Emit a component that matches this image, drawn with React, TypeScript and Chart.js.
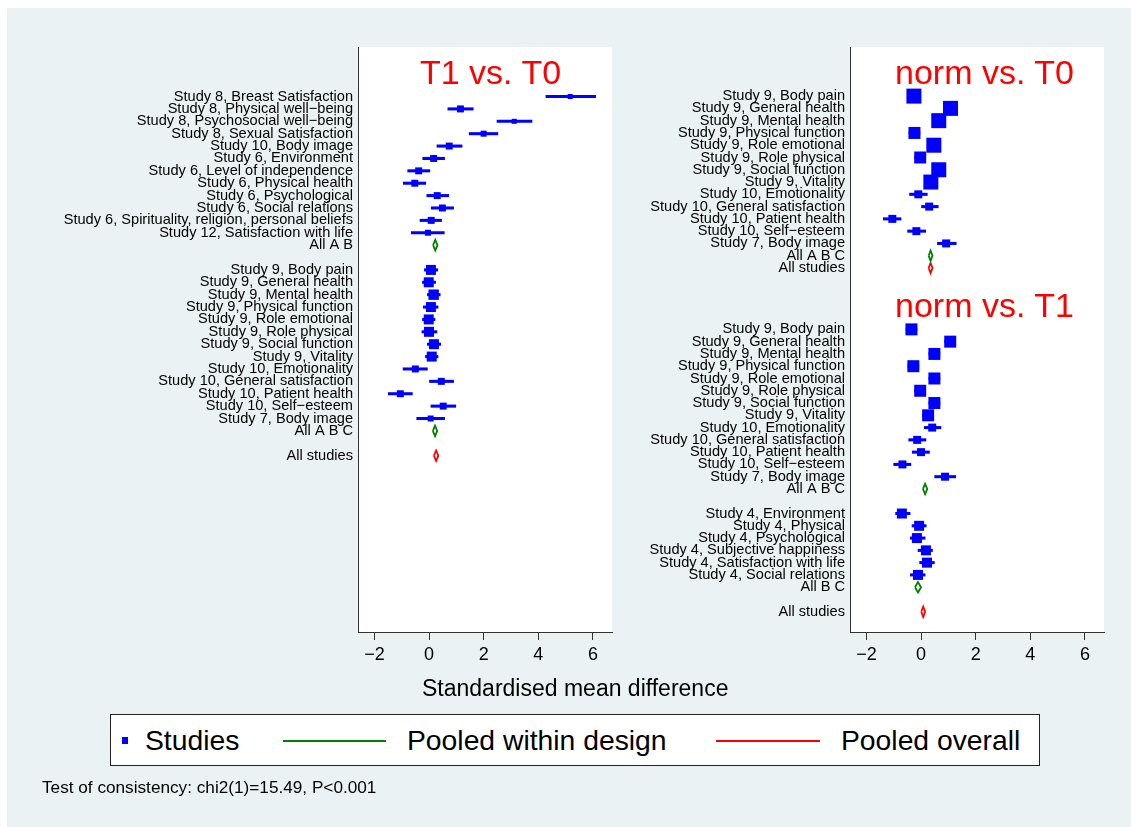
import React, { useEffect, useRef } from 'react';
import { Chart, registerables } from 'chart.js';

Chart.register(...registerables);

const FONT = '"Liberation Sans", Arial, Helvetica, sans-serif';
const W = 1131;
const H = 827;

// ---------- data ----------
const xTicks = [-2, 0, 2, 4, 6];

// Panel "T1 vs. T0"
const leftLabels = [
  'Study 8, Breast Satisfaction',
  'Study 8, Physical well−being',
  'Study 8, Psychosocial well−being',
  'Study 8, Sexual Satisfaction',
  'Study 10, Body image',
  'Study 6, Environment',
  'Study 6, Level of independence',
  'Study 6, Physical health',
  'Study 6, Psychological',
  'Study 6, Social relations',
  'Study 6, Spirituality, religion, personal beliefs',
  'Study 12, Satisfaction with life',
  'All A B',
  '',
  'Study 9, Body pain',
  'Study 9, General health',
  'Study 9, Mental health',
  'Study 9, Physical function',
  'Study 9, Role emotional',
  'Study 9, Role physical',
  'Study 9, Social function',
  'Study 9, Vitality',
  'Study 10, Emotionality',
  'Study 10, General satisfaction',
  'Study 10, Patient health',
  'Study 10, Self−esteem',
  'Study 7, Body image',
  'All A B C',
  '',
  'All studies',
];
const leftEst = [5.17, 1.15, 3.12, 2.0, 0.74, 0.17, -0.38, -0.52, 0.3, 0.49, 0.08, -0.04, 0.23, null,
  0.07, -0.01, 0.17, 0.07, -0.01, 0.0, 0.18, 0.1, -0.5, 0.45, -1.05, 0.52, 0.06, 0.22, null, 0.26];
const leftLo = [4.28, 0.69, 2.49, 1.47, 0.29, -0.23, -0.78, -0.94, -0.08, 0.08, -0.33, -0.65, 0.15, null,
  -0.17, -0.24, -0.06, -0.21, -0.24, -0.26, -0.06, -0.13, -0.95, 0.0, -1.49, 0.07, -0.45, 0.14, null, 0.18];
const leftHi = [6.1, 1.62, 3.77, 2.52, 1.21, 0.57, 0.03, -0.12, 0.72, 0.9, 0.46, 0.56, 0.31, null,
  0.32, 0.24, 0.41, 0.33, 0.22, 0.29, 0.43, 0.33, -0.06, 0.9, -0.61, 0.98, 0.57, 0.3, null, 0.34];
const leftWeight = [2.8, 5.4, 2.8, 4, 5.4, 5.4, 5.4, 5.4, 5.4, 5.4, 5.4, 4, null, null,
  11.1, 11.1, 12, 11.1, 11.1, 11.1, 11.1, 11.1, 5.4, 5.4, 5.4, 5.4, 4, null, null, null];

// Panels "norm vs. T0" and "norm vs. T1"
const rightLabels = [
  'Study 9, Body pain',
  'Study 9, General health',
  'Study 9, Mental health',
  'Study 9, Physical function',
  'Study 9, Role emotional',
  'Study 9, Role physical',
  'Study 9, Social function',
  'Study 9, Vitality',
  'Study 10, Emotionality',
  'Study 10, General satisfaction',
  'Study 10, Patient health',
  'Study 10, Self−esteem',
  'Study 7, Body image',
  'All A B C',
  'All studies',
  '', '', '', '',
  'Study 9, Body pain',
  'Study 9, General health',
  'Study 9, Mental health',
  'Study 9, Physical function',
  'Study 9, Role emotional',
  'Study 9, Role physical',
  'Study 9, Social function',
  'Study 9, Vitality',
  'Study 10, Emotionality',
  'Study 10, General satisfaction',
  'Study 10, Patient health',
  'Study 10, Self−esteem',
  'Study 7, Body image',
  'All A B C',
  '',
  'Study 4, Environment',
  'Study 4, Physical',
  'Study 4, Psychological',
  'Study 4, Subjective happiness',
  'Study 4, Satisfaction with life',
  'Study 4, Social relations',
  'All B C',
  '',
  'All studies',
];
const rightEst = [-0.26, 1.08, 0.65, -0.24, 0.47, -0.03, 0.65, 0.36, -0.1, 0.3, -1.05, -0.17, 0.92, 0.35, 0.35,
  null, null, null, null,
  -0.35, 1.07, 0.49, -0.28, 0.49, -0.03, 0.49, 0.26, 0.41, -0.14, 0.0, -0.68, 0.88, 0.15, null,
  -0.7, -0.07, -0.15, 0.18, 0.22, -0.11, -0.11, null, 0.08];
const rightLo = [-0.46, 0.88, 0.45, -0.44, 0.27, -0.23, 0.45, 0.16, -0.42, 0.0, -1.38, -0.49, 0.6, 0.28, 0.28,
  null, null, null, null,
  -0.55, 0.87, 0.29, -0.48, 0.29, -0.23, 0.29, 0.06, 0.12, -0.45, -0.32, -1.0, 0.5, 0.07, null,
  -0.93, -0.33, -0.39, -0.11, -0.05, -0.39, -0.22, null, 0.01];
const rightHi = [-0.06, 1.28, 0.85, -0.04, 0.67, 0.17, 0.85, 0.56, 0.23, 0.63, -0.73, 0.17, 1.29, 0.42, 0.42,
  null, null, null, null,
  -0.15, 1.27, 0.69, -0.08, 0.69, 0.17, 0.69, 0.46, 0.73, 0.18, 0.31, -0.37, 1.27, 0.23, null,
  -0.4, 0.19, 0.15, 0.42, 0.49, 0.15, 0.0, null, 0.15];
const rightWeight = [25, 25, 25, 16, 25, 16, 25, 25, 7.1, 7.1, 7.1, 7.1, 7.1, null, null,
  null, null, null, null,
  16, 16, 16, 16, 16, 16, 16, 16, 7.1, 7.1, 7.1, 7.1, 7.1, null, null,
  11.1, 11.1, 11.1, 11.1, 11.1, 11.1, null, null, null];

// ---------- styles ----------
const BLUE = '#0000ff';
const GREEN = '#008000';
const RED = '#ff0000';
const AXIS = '#333333';
const DIAMOND_H = 0.42;

const plotBg = {
  id: 'plotBg',
  beforeDraw(chart: any) {
    const { ctx, chartArea: a } = chart;
    ctx.save();
    ctx.fillStyle = '#ffffff';
    ctx.fillRect(a.left, a.top, a.right - a.left, a.bottom - a.top);
    ctx.restore();
  },
};

const fmtTick = (v: number) => (v < 0 ? '−' + Math.abs(v) : String(v));

function makeConfig(
  labels: string[],
  est: (number | null)[],
  lo: (number | null)[],
  hi: (number | null)[],
  weight: (number | null)[],
  yMax: number,
  axisLeft: number,
  plotRight: number,
): any {
  const ciData: any[] = [];
  const ptData: any[] = [];
  const sizes: number[] = [];
  const diamonds: any[] = [];
  labels.forEach((lab, i) => {
    const e = est[i];
    if (e == null) return;
    const r = i + 1;
    if (lab.startsWith('All')) {
      const color = lab === 'All studies' ? RED : GREEN;
      diamonds.push({
        type: 'scatter',
        showLine: true,
        data: [
          { x: lo[i], y: r },
          { x: e, y: r - DIAMOND_H },
          { x: hi[i], y: r },
          { x: e, y: r + DIAMOND_H },
          { x: lo[i], y: r },
        ],
        borderColor: color,
        borderWidth: 1.8,
        pointRadius: 0,
        fill: false,
        tension: 0,
        xAxisID: 'x',
        yAxisID: 'y',
      });
    } else {
      ciData.push({ y: r, x: [lo[i], hi[i]] });
      ptData.push({ x: e, y: r });
      sizes.push(3 * Math.sqrt(weight[i] as number));
    }
  });

  return {
    type: 'scatter',
    data: {
      datasets: [
        {
          type: 'bar',
          indexAxis: 'y',
          data: ciData,
          backgroundColor: BLUE,
          borderWidth: 0,
          barThickness: 2.4,
          xAxisID: 'x',
          yAxisID: 'y',
        },
        {
          type: 'scatter',
          data: ptData,
          pointStyle: 'rect',
          pointRadius: (ctx: any) => (sizes[ctx.dataIndex] ?? 6) / Math.SQRT2,
          pointHoverRadius: (ctx: any) => (sizes[ctx.dataIndex] ?? 6) / Math.SQRT2,
          backgroundColor: BLUE,
          borderWidth: 0,
          xAxisID: 'x',
          yAxisID: 'y',
        },
        ...diamonds,
      ],
    },
    options: {
      animation: false,
      responsive: false,
      devicePixelRatio: 1,
      events: [],
      layout: {
        padding: { left: 0, top: 47, right: W - plotRight, bottom: H - 632 - 40 },
      },
      plugins: { legend: { display: false }, tooltip: { enabled: false }, title: { display: false } },
      scales: {
        x: {
          type: 'linear',
          min: -2.6,
          max: 6.7,
          offset: false,
          afterBuildTicks: (s: any) => {
            s.ticks = xTicks.map((v) => ({ value: v }));
          },
          afterFit: (s: any) => {
            s.height = 40;
          },
          ticks: {
            padding: 4,
            color: '#000',
            font: { family: FONT, size: 18 },
            maxRotation: 0,
            callback: (v: any) => fmtTick(Number(v)),
          },
          grid: { display: true, drawOnChartArea: false, drawTicks: true, tickLength: 8, color: AXIS, lineWidth: 1 },
          border: { display: true, color: AXIS, width: 1 },
        },
        y: {
          type: 'linear',
          reverse: true,
          min: -3,
          max: yMax,
          offset: false,
          afterBuildTicks: (s: any) => {
            s.ticks = labels.map((_, i) => ({ value: i + 1 }));
          },
          afterFit: (s: any) => {
            s.width = axisLeft;
          },
          ticks: {
            autoSkip: false,
            padding: 5,
            color: '#000',
            font: { family: FONT, size: 14.6 },
            callback: (_v: any, idx: number) => labels[idx] ?? '',
          },
          grid: { display: false, drawTicks: false },
          border: { display: true, color: AXIS, width: 1 },
        },
      },
    },
    plugins: [plotBg],
  };
}

function Panel(props: {
  labels: string[];
  est: (number | null)[];
  lo: (number | null)[];
  hi: (number | null)[];
  weight: (number | null)[];
  yMax: number;
  axisLeft: number;
  plotRight: number;
}) {
  const ref = useRef<HTMLCanvasElement>(null);
  useEffect(() => {
    const c = ref.current;
    if (!c) return;
    const chart = new Chart(
      c,
      makeConfig(props.labels, props.est, props.lo, props.hi, props.weight, props.yMax, props.axisLeft, props.plotRight),
    );
    return () => chart.destroy();
  }, []);
  return (
    <canvas
      ref={ref}
      width={W}
      height={H}
      style={{ position: 'absolute', left: 0, top: 0, width: W, height: H }}
    />
  );
}

function Txt(props: { x: number; baseline: number; size: number; color?: string; children: React.ReactNode }) {
  return (
    <div
      style={{
        position: 'absolute',
        left: props.x,
        top: props.baseline - 0.8465 * props.size,
        fontFamily: FONT,
        fontSize: props.size,
        lineHeight: 1,
        color: props.color ?? '#000',
        whiteSpace: 'nowrap',
      }}
    >
      {props.children}
    </div>
  );
}

export default function App() {
  return (
    <div style={{ position: 'fixed', left: 0, top: 0, width: W, height: H, background: '#ffffff', overflow: 'hidden' }}>
      <div style={{ position: 'absolute', left: 7, top: 8, width: W - 7, height: H - 8, background: '#eaf2f3' }} />
      <Panel
        labels={leftLabels}
        est={leftEst}
        lo={leftLo}
        hi={leftHi}
        weight={leftWeight}
        yMax={44.24}
        axisLeft={358}
        plotRight={612}
      />
      <Panel
        labels={rightLabels}
        est={rightEst}
        lo={rightLo}
        hi={rightHi}
        weight={rightWeight}
        yMax={44.65}
        axisLeft={850}
        plotRight={1104}
      />
      <Txt x={420} baseline={84} size={34} color={RED}>T1 vs. T0</Txt>
      <Txt x={895} baseline={83.5} size={34} color={RED}>norm vs. T0</Txt>
      <Txt x={895} baseline={316.5} size={34} color={RED}>norm vs. T1</Txt>
      <Txt x={422} baseline={696} size={23}>Standardised mean difference</Txt>

      <div
        style={{
          position: 'absolute',
          left: 110,
          top: 714,
          width: 930,
          height: 52,
          boxSizing: 'border-box',
          border: '1.5px solid #222',
          background: '#ffffff',
        }}
      />
      <div style={{ position: 'absolute', left: 122, top: 737, width: 6, height: 7, background: BLUE }} />
      <Txt x={145} baseline={750} size={28.3}>Studies</Txt>
      <div style={{ position: 'absolute', left: 283, top: 740, width: 103, height: 2, background: GREEN }} />
      <Txt x={407} baseline={750} size={28.3}>Pooled within design</Txt>
      <div style={{ position: 'absolute', left: 716, top: 740, width: 104, height: 2, background: RED }} />
      <Txt x={841} baseline={750} size={28.3}>Pooled overall</Txt>

      <Txt x={42} baseline={794} size={17.2}>Test of consistency: chi2(1)=15.49, P&lt;0.001</Txt>
    </div>
  );
}
